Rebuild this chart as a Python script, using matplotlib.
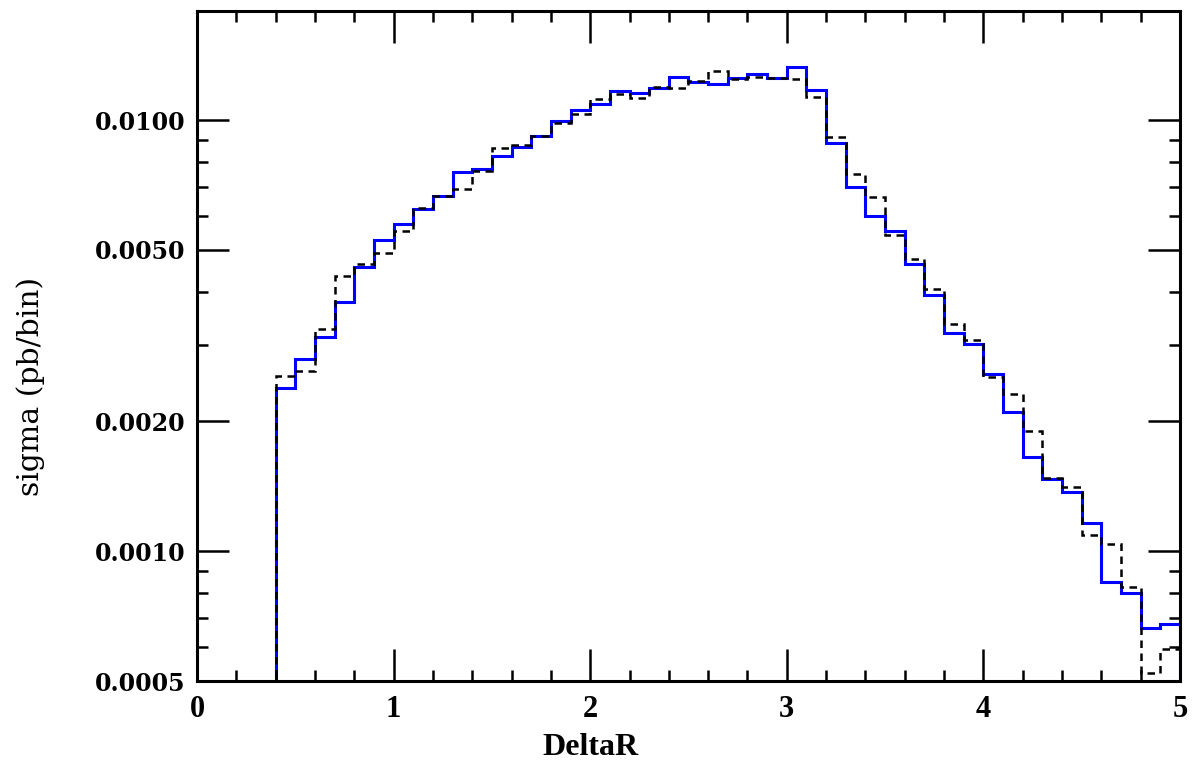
import numpy as np
import matplotlib
matplotlib.use("Agg")
import matplotlib.pyplot as plt
from matplotlib.ticker import FixedLocator, FixedFormatter, MultipleLocator

# bin edges 0.4 .. 5.0, width 0.1
edges = np.round(np.arange(0.4, 5.0001, 0.1), 2)

# blue solid histogram
sigma_blue = [0.00239, 0.00279, 0.00314, 0.00378, 0.00457, 0.00527, 0.00573, 0.00622,
              0.00666, 0.00756, 0.00769, 0.00826, 0.00866, 0.00920, 0.00996, 0.01055,
              0.01087, 0.01170, 0.01153, 0.01184, 0.01255, 0.01223, 0.01210, 0.01250,
              0.01279, 0.01253, 0.01325, 0.01174, 0.00886, 0.00699, 0.00598, 0.00553,
              0.00463, 0.00392, 0.00320, 0.00302, 0.00257, 0.00210, 0.00165, 0.00147,
              0.00137, 0.00116, 0.00085, 0.00080, 0.000665, 0.000677]

# black dashed histogram
sigma_black = [0.00255, 0.00262, 0.00328, 0.00434, 0.00464, 0.00491, 0.00553, 0.00626,
               0.00666, 0.00691, 0.00761, 0.00860, 0.00874, 0.00920, 0.00986, 0.01031,
               0.01119, 0.01147, 0.01123, 0.01191, 0.01184, 0.01232, 0.01299, 0.01243,
               0.01256, 0.01250, 0.01243, 0.01129, 0.00915, 0.00749, 0.00663, 0.00541,
               0.00476, 0.00405, 0.00336, 0.00309, 0.00253, 0.00231, 0.00190, 0.00148,
               0.00141, 0.00109, 0.00104, 0.000826, 0.000523, 0.000594]

ymajor = [0.0005, 0.0010, 0.0020, 0.0050, 0.0100]
ymajor_labels = ["0.0005", "0.0010", "0.0020", "0.0050", "0.0100"]
yminor = [0.0006, 0.0007, 0.0008, 0.0009, 0.003, 0.004, 0.006, 0.007, 0.008, 0.009]

fig = plt.figure(figsize=(11.98, 7.67), dpi=100)
ax = fig.add_axes([0.1644, 0.1121, 0.8206, 0.8736])

ax.stairs(sigma_blue, edges, baseline=1e-6, color="#0000ff", lw=2.2)
ax.stairs(sigma_black, edges, baseline=1e-6, color="black", lw=1.8,
          linestyle=(0, (3, 2.2)))

ax.set_yscale("log")
ax.set_xlim(0, 5)
ax.set_ylim(0.0005, 0.0179)

ax.yaxis.set_major_locator(FixedLocator(ymajor))
ax.yaxis.set_major_formatter(FixedFormatter(ymajor_labels))
ax.yaxis.set_minor_locator(FixedLocator(yminor))
ax.yaxis.set_minor_formatter(FixedFormatter([]))
ax.xaxis.set_major_locator(MultipleLocator(1))
ax.xaxis.set_minor_locator(MultipleLocator(0.2))

ax.tick_params(which="both", direction="in", top=True, right=True, width=1.8, color="black")
ax.tick_params(which="major", length=23)
ax.tick_params(which="minor", length=8)
ax.tick_params(axis="y", which="major", pad=8)
ax.tick_params(axis="x", which="major", pad=10)

for lab in ax.get_yticklabels():
    lab.set_fontfamily("DejaVu Serif")
    lab.set_fontsize(17)
    lab.set_fontweight("bold")
for lab in ax.get_xticklabels():
    lab.set_fontfamily("Liberation Serif")
    lab.set_fontsize(22)
    lab.set_fontweight("bold")

for sp in ax.spines.values():
    sp.set_linewidth(2.2)

ax.set_xlabel("DeltaR", family="Liberation Serif", fontsize=23, fontweight="bold")
ax.xaxis.set_label_coords(0.40, -0.078)
ax.set_ylabel("sigma (pb/bin)", family="DejaVu Serif", fontsize=21.5)
ax.yaxis.set_label_coords(-0.155, 0.439)

fig.savefig("out.png", dpi=100)
